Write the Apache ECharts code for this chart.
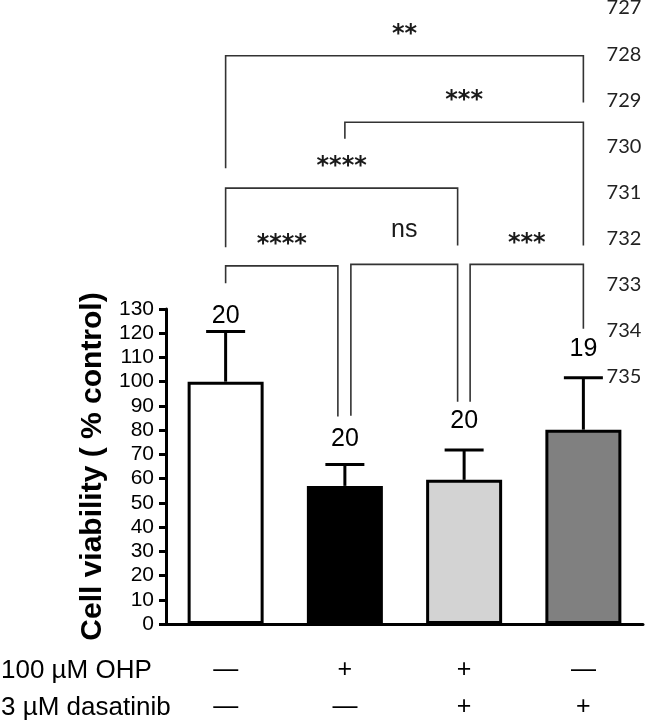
<!DOCTYPE html>
<html><head><meta charset="utf-8">
<script src="https://cdn.jsdelivr.net/npm/echarts@6/dist/echarts.min.js"></script>
<style>html,body{margin:0;padding:0;background:#fff}#c{width:645px;height:726px}</style>
</head><body><div id="c"></div>
<script>
// ---- data ----
const categories = ['Control', 'OHP', 'OHP + dasatinib', 'Dasatinib'];
const means = [100, 57, 59.5, 80.2];
const errUpper = [120.7, 65.8, 71.8, 101.6];
const nCounts = ['20', '20', '20', '19'];
const nLabelAt = [127, 76.1, 83.7, 113.4];
const ohpRow = ['—', '+', '+', '—'];
const dasRow = ['—', '—', '+', '+'];
const rowTitles = ['100 µM OHP', '3 µM dasatinib'];
const yMin = 0, yMax = 130, yStep = 10;
const barColors = ['#ffffff', '#000000', '#d3d3d3', '#808080'];
const lineNumbers = [727, 728, 729, 730, 731, 732, 733, 734, 735];
// comparisons: groups, bracket level & leg ends (in % control units), significance
const compA = [0, 1, 0, 0, 1, 2];
const compB = [3, 3, 2, 1, 2, 3];
const compLevel = [234.5, 207.1, 179.9, 147.8, 148.4, 148.4];
const compLegA = [188.1, 200.3, 155.5, 140.6, 85.9, 91.7];
const compLegB = [215.2, 156.2, 156.2, 85.6, 91.7, 121.9];
const compMark = ['**', '***', '****', '****', 'ns', '***'];
// horizontal nudges of bracket legs (px)
const shiftA = [0, 0, 0, 0, 6, 6];
const shiftB = [0, 0, -6.5, -7, -6.5, 0];

const chart = echarts.init(document.getElementById('c'), null, {renderer: 'canvas'});
const option = {
  animation: false,
  backgroundColor: '#fff',
  grid: {left: 166, right: 2, top: 309, bottom: 97, containLabel: false},
  xAxis: {
    type: 'category', data: categories,
    axisLine: {lineStyle: {color: '#000', width: 3}},
    axisTick: {alignWithLabel: true, length: 9, lineStyle: {color: '#000', width: 3}},
    axisLabel: {
      formatter: (v, i) => ohpRow[i] + '\n' + dasRow[i],
      fontSize: 25, lineHeight: 37, color: '#000', margin: 28,
      fontFamily: 'Liberation Sans, Arial, sans-serif'
    }
  },
  yAxis: {
    type: 'value', min: yMin, max: yMax, interval: yStep,
    name: 'Cell viability ( % control)', nameLocation: 'middle', nameGap: 71, nameRotate: 90,
    nameTextStyle: {fontSize: 30, fontWeight: 'bold', color: '#000', verticalAlign: 'middle',
      fontFamily: 'Liberation Sans, Arial, sans-serif'},
    axisLine: {show: true, lineStyle: {color: '#000', width: 3}},
    axisTick: {show: true, length: 7, lineStyle: {color: '#000', width: 3}},
    splitLine: {show: false},
    axisLabel: {fontSize: 21, color: '#000', margin: 12, fontFamily: 'Liberation Sans, Arial, sans-serif'}
  },
  series: [
    {
      type: 'bar', barWidth: 76, z: 2,
      data: means.map((v, i) => ({value: v, itemStyle: {color: barColors[i], borderColor: '#000', borderWidth: 3}}))
    },
    {
      type: 'custom', z: 3,
      data: means.map((m, i) => [i, m, errUpper[i]]),
      renderItem: function (params, api) {
        const lo = api.coord([api.value(0), api.value(1)]);
        const hi = api.coord([api.value(0), api.value(2)]);
        const hw = 19.5;
        return {type: 'group', children: [
          {type: 'line', shape: {x1: lo[0], y1: lo[1], x2: hi[0], y2: hi[1]}, style: {stroke: '#000', lineWidth: 3}},
          {type: 'line', shape: {x1: hi[0] - hw, y1: hi[1], x2: hi[0] + hw, y2: hi[1]}, style: {stroke: '#000', lineWidth: 3}}
        ]};
      }
    }
  ]
};
chart.setOption(option);

function px(cat, val) { return chart.convertToPixel({gridIndex: 0}, [cat, val]); }
const g = [];
// n labels
nCounts.forEach((t, i) => {
  const p = px(i, nLabelAt[i]);
  g.push({type: 'text', x: p[0], y: p[1], style: {text: t, font: '25px "Liberation Sans", Arial, sans-serif', fill: '#000', align: 'center', verticalAlign: 'middle'}});
});
// brackets
compA.forEach((a, k) => {
  const xa = px(a, 0)[0] + shiftA[k];
  const xb = px(compB[k], 0)[0] + shiftB[k];
  const yTop = px(0, compLevel[k])[1];
  const ya = px(0, compLegA[k])[1];
  const yb = px(0, compLegB[k])[1];
  g.push({type: 'polyline', shape: {points: [[xa, ya], [xa, yTop], [xb, yTop], [xb, yb]]},
    style: {stroke: '#333', lineWidth: 1.6, fill: null}});
  const isNs = compMark[k] === 'ns';
  g.push({type: 'text', x: (xa + xb) / 2, y: yTop - (isNs ? 34 : 21),
    style: {text: compMark[k], fill: '#1a1a1a', align: 'center', verticalAlign: 'middle',
      font: isNs ? '25px "Liberation Sans", Arial, sans-serif' : 'bold 24px "DejaVu Sans", sans-serif'}});
});
// row titles
rowTitles.forEach((t, r) => {
  const y = px(0, 0)[1] + 46.5 + r * 37;
  g.push({type: 'text', x: 1, y: y, style: {text: t, font: '26px "Liberation Sans", Arial, sans-serif', fill: '#000', align: 'left', verticalAlign: 'middle'}});
});
// manuscript line numbers
lineNumbers.forEach((n, i) => {
  g.push({type: 'text', x: 624, y: 8 + i * 46.1, style: {text: String(n), font: '20px Lato, sans-serif', fill: '#222', align: 'center', verticalAlign: 'middle'}});
});
chart.setOption({graphic: g});
</script>
</body></html>
